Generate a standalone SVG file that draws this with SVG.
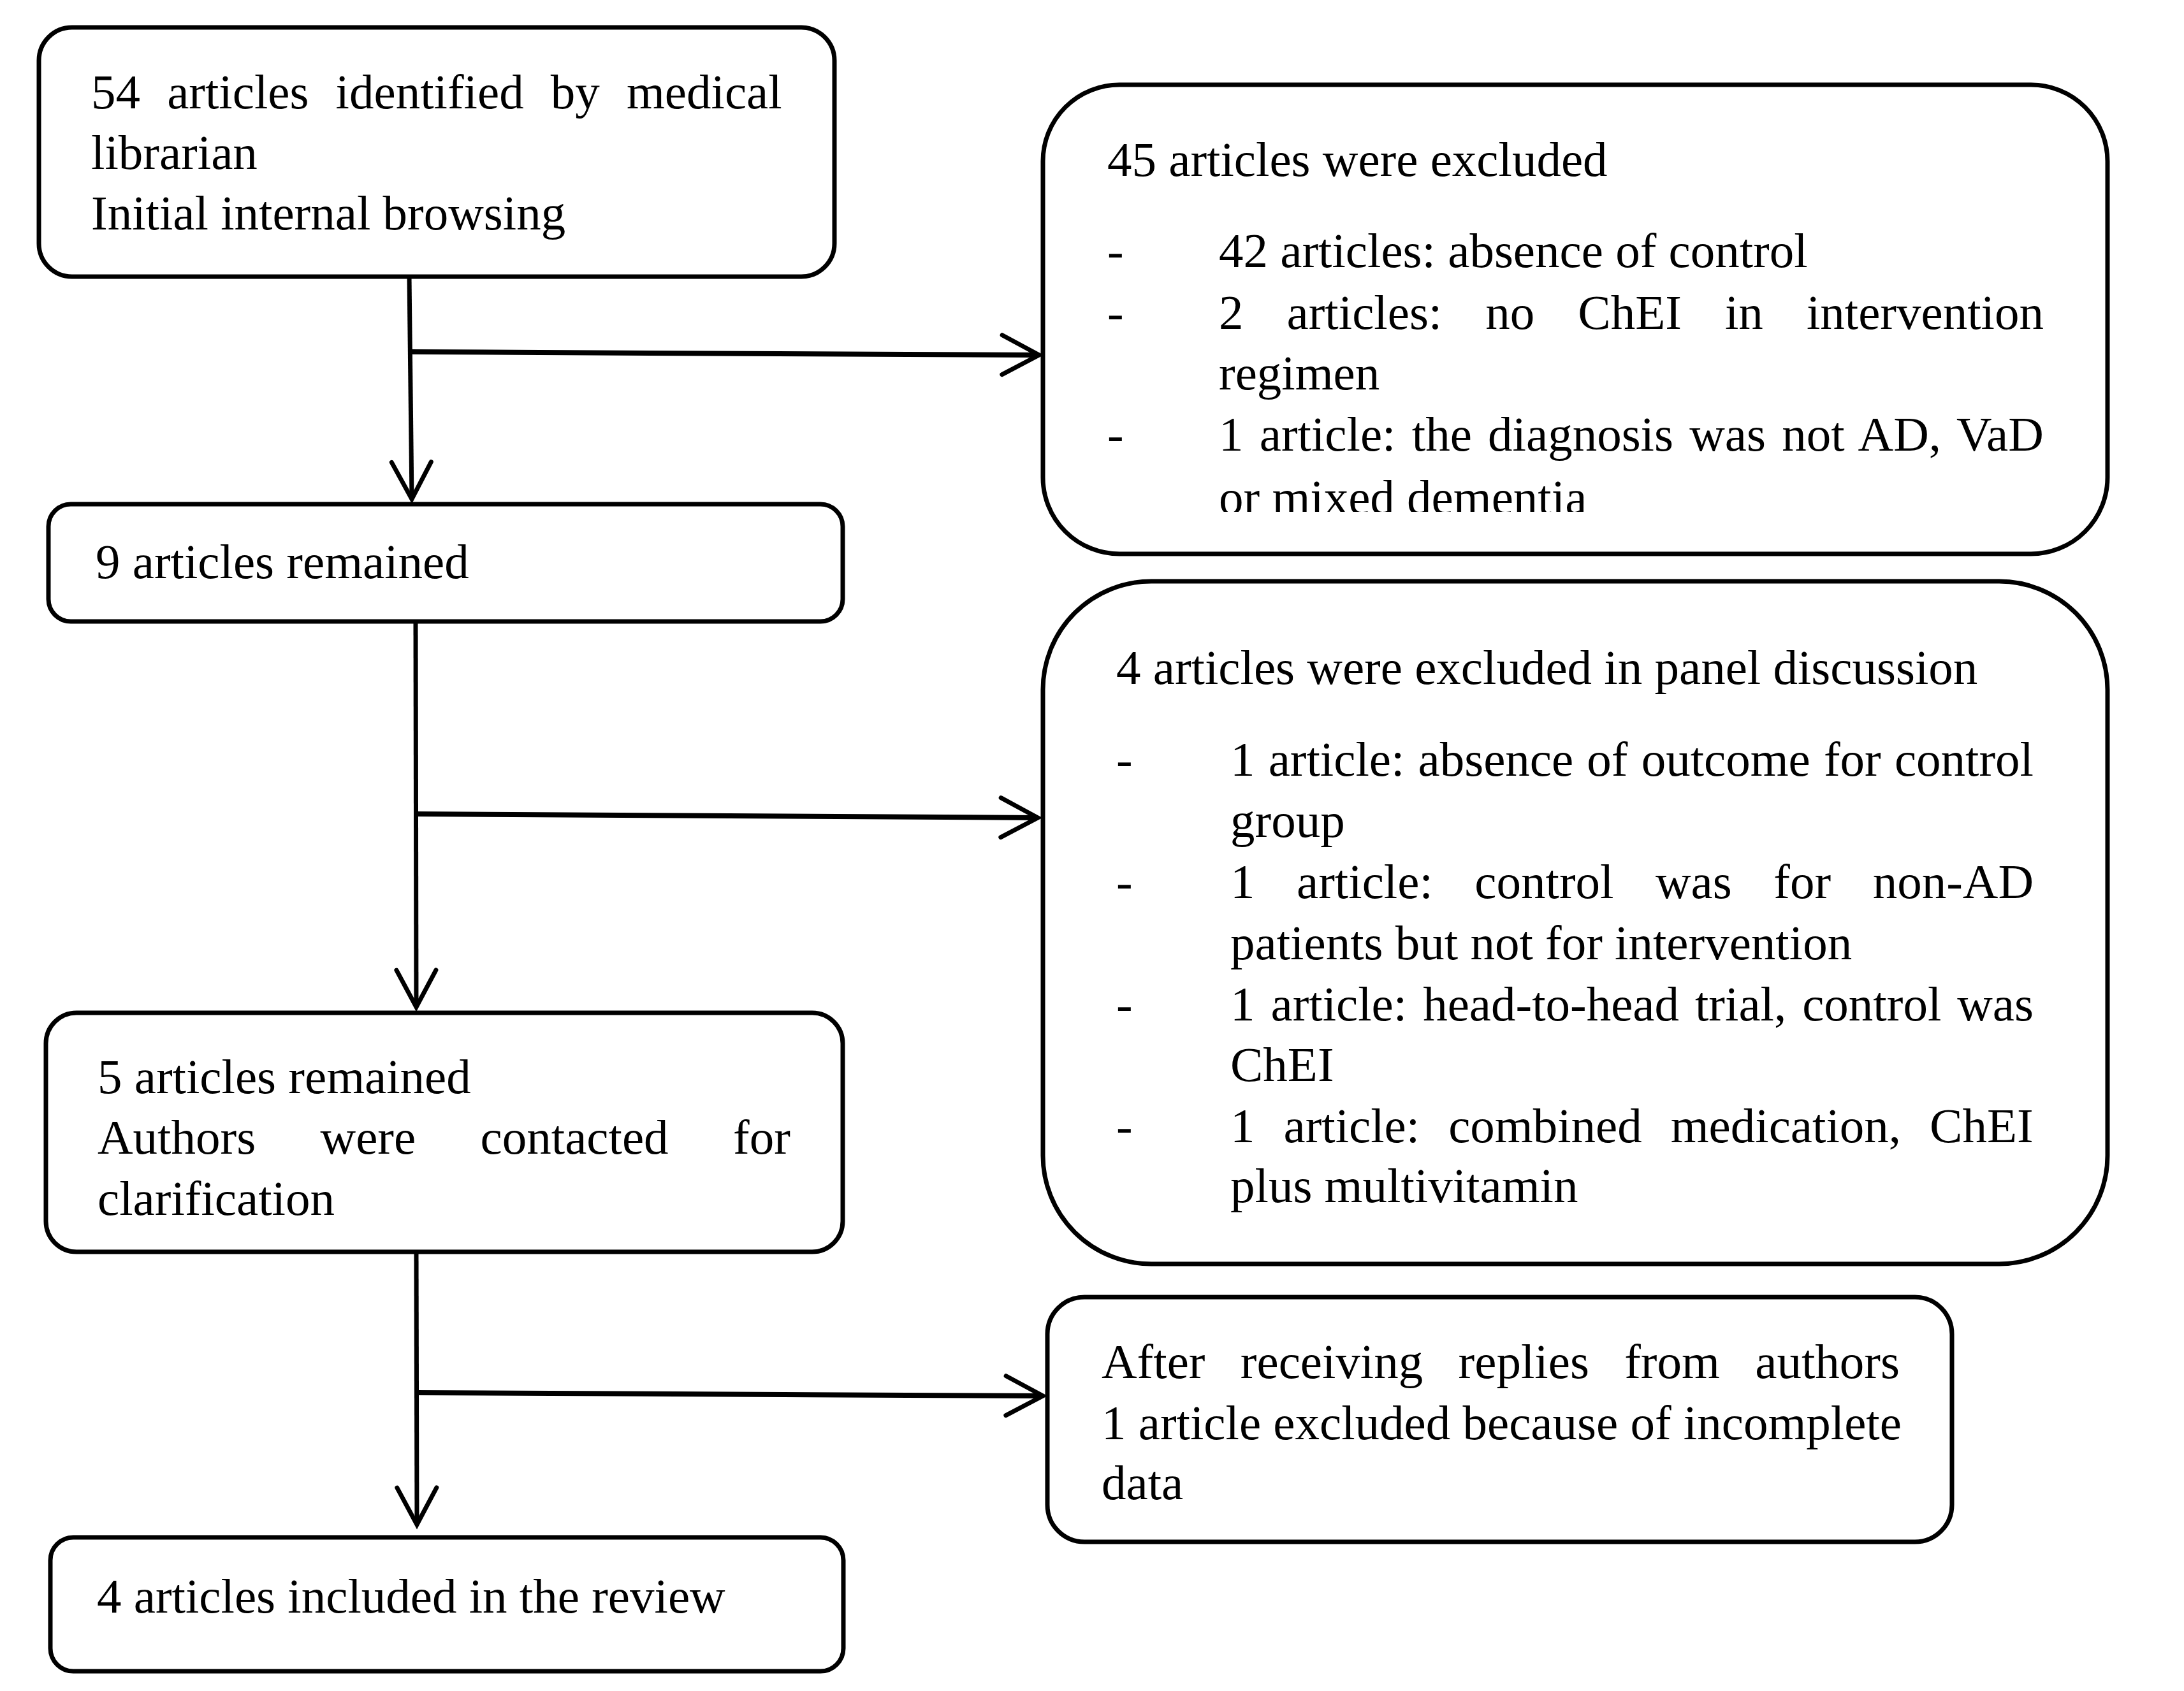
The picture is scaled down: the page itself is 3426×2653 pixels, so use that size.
<svg xmlns="http://www.w3.org/2000/svg" width="3426" height="2653" viewBox="0 0 3426 2653">
<style>
.box{fill:#fff;stroke:#000;stroke-width:7}
.t{font-family:"Liberation Serif","Times New Roman",serif;font-size:77px;fill:#000}
.cv{stroke:#000;stroke-width:7;fill:none;marker-end:url(#arr)}
.ch{stroke:#000;stroke-width:8;fill:none;marker-end:url(#arr)}
</style>
<defs>
<marker id="arr" markerUnits="userSpaceOnUse" orient="auto" refX="0" refY="0" markerWidth="90" markerHeight="90" viewBox="-75 -45 90 90" overflow="visible">
<path d="M-58,-31 L0,0 L-58,31" fill="none" stroke="#000" stroke-width="7" stroke-linecap="round" stroke-linejoin="miter"/>
</marker>
<clipPath id="clipA"><rect x="1600" y="700" width="1700" height="103"/></clipPath>
<clipPath id="clipB"><rect x="1600" y="1780" width="1700" height="122"/></clipPath>
</defs>
<rect width="3426" height="2653" fill="#fff"/>

<g id="connectors">
<path class="cv" d="M642,434 L646,783"/>
<path class="ch" d="M642,552 L1630,557"/>
<path class="cv" d="M652,975 L653,1580"/>
<path class="ch" d="M652,1277 L1628,1283"/>
<path class="cv" d="M653,1964 L654,2392"/>
<path class="ch" d="M653,2185 L1636,2190"/>
</g>

<g id="n1">
<rect class="box" x="61" y="43" width="1248" height="391" rx="52" ry="52"/>
<text class="t" x="143" y="170" word-spacing="22.9">54 articles identified by medical</text>
<text class="t" x="143" y="265">librarian</text>
<text class="t" x="143" y="360">Initial internal browsing</text>
</g>

<g id="n2">
<rect class="box" x="1636" y="133" width="1670" height="736" rx="120" ry="120"/>
<text class="t" x="1737" y="276">45 articles were excluded</text>
<text class="t" x="1737" y="419">-</text>
<text class="t" x="1912" y="419">42 articles: absence of control</text>
<text class="t" x="1737" y="516">-</text>
<text class="t" x="1912" y="516" word-spacing="48.8">2 articles: no ChEI in intervention</text>
<text class="t" x="1912" y="611">regimen</text>
<text class="t" x="1737" y="707">-</text>
<text class="t" x="1912" y="707" word-spacing="6">1 article: the diagnosis was not AD, VaD</text>
<text class="t" x="1912" y="806" clip-path="url(#clipA)">or mixed dementia</text>
</g>

<g id="n3">
<rect class="box" x="76" y="791" width="1246" height="184" rx="35" ry="35"/>
<text class="t" x="150" y="907">9 articles remained</text>
</g>

<g id="n4">
<rect class="box" x="1636" y="912" width="1670" height="1071" rx="170" ry="170"/>
<text class="t" x="1751" y="1073">4 articles were excluded in panel discussion</text>
<text class="t" x="1751" y="1217">-</text>
<text class="t" x="1930" y="1217" word-spacing="1.9">1 article: absence of outcome for control</text>
<text class="t" x="1930" y="1313">group</text>
<text class="t" x="1751" y="1409">-</text>
<text class="t" x="1930" y="1409" word-spacing="46.3">1 article: control was for non-AD</text>
<text class="t" x="1930" y="1505">patients but not for intervention</text>
<text class="t" x="1751" y="1601">-</text>
<text class="t" x="1930" y="1601" word-spacing="5.7">1 article: head-to-head trial, control was</text>
<text class="t" x="1930" y="1696">ChEI</text>
<text class="t" x="1751" y="1792">-</text>
<text class="t" x="1930" y="1792" word-spacing="25.7">1 article: combined medication, ChEI</text>
<text class="t" x="1930" y="1886" clip-path="url(#clipB)">plus multivitamin</text>
</g>

<g id="n5">
<rect class="box" x="72" y="1589" width="1250" height="375" rx="48" ry="48"/>
<text class="t" x="153" y="1715">5 articles remained</text>
<text class="t" x="153" y="1810" word-spacing="82.2">Authors were contacted for</text>
<text class="t" x="153" y="1906">clarification</text>
</g>

<g id="n6">
<rect class="box" x="1643" y="2035" width="1419" height="384" rx="58" ry="58"/>
<text class="t" x="1728" y="2162" word-spacing="36.1">After receiving replies from authors</text>
<text class="t" x="1728" y="2258">1 article excluded because of incomplete</text>
<text class="t" x="1728" y="2352">data</text>
</g>

<g id="n7">
<rect class="box" x="79" y="2412" width="1244" height="210" rx="36" ry="36"/>
<text class="t" x="152" y="2530">4 articles included in the review</text>
</g>
</svg>
